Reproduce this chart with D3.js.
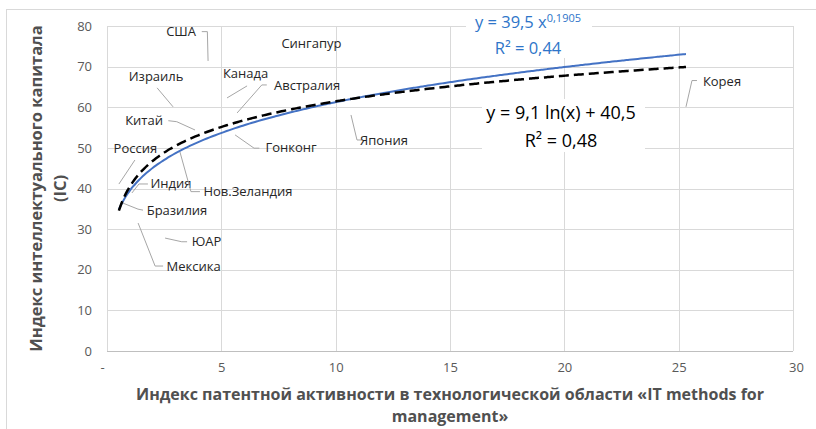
<!DOCTYPE html>
<html><head><meta charset="utf-8">
<script src="https://cdn.jsdelivr.net/npm/d3@7"></script>
<style>
body{margin:0;background:#fff;}
svg{display:block;}
</style></head>
<body>
<svg id="chart" width="816" height="429"></svg>
<script>
// ---- data ----
const countries = ["США","Сингапур","Израиль","Канада","Австралия","Китай","Россия","Гонконг","Индия","Нов.Зеландия","Бразилия","ЮАР","Мексика","Япония","Корея"];
const patentIndex = [4.42, 8.94, 2.89, 5.25, 5.69, 3.85, 0.52, 5.60, 1.09, 3.19, 0.70, 2.54, 1.36, 10.67, 25.32];
const icIndex     = [71.4, 75.6, 60.1, 62.3, 58.6, 54.4, 41.1, 53.2, 38.9, 49.0, 36.4, 27.8, 31.5, 58.1, 60.1];
const powerFit = [39.5, 0.1905];   // y = a * x^b
const logFit   = [9.1, 40.5];      // y = a * ln(x) + b
const xTicks = [0, 5, 10, 15, 20, 25, 30];
const yTicks = [0, 10, 20, 30, 40, 50, 60, 70, 80];

// ---- layout (pixel offsets of data labels relative to their point) ----
// [labelDx, labelDy, stubStartDx, stubStartDy, stubEndDx, stubEndDy] ; null = no leader
const labelLayout = [
  [-27,-29, -6.3,-29.3, -0.7,-29.3],
  [0,0, null],
  [-17,-30, -16,-19, -16,-19],
  [18.5,-24, 20,-12, 20,-12],
  [70,-27.3, 29.7,-28, 24.7,-28],
  [-51,-9.3, -26.7,-9.3, -18.3,-8.3],
  [16.5,-36, 16,-24, 16,-24],
  [56,13, 24.3,13.3, 19,13.3],
  [39,-10, 16,-9, 7,-9],
  [68,39.7, 20,39.7, 11,39.7],
  [54,7, 20,7, 15,6],
  [41.5,3, 22,3.7, 16.7,3.7],
  [55.5,43, 25,43, 17,43],
  [33,25, 11,25, 6,25],
  [36,-25, 11,-26.3, 6,-26.3]
];

const svg = d3.select("#chart");
const M = {left:107, right:793, top:26, bottom:351};
const x = d3.scaleLinear().domain([0,30]).range([M.left, M.right]);
const y = d3.scaleLinear().domain([0,80]).range([M.bottom, M.top]);
const FONT = "'Open Sans', 'Noto Sans', sans-serif";

// chart area border
svg.append("rect").attr("x",6.5).attr("y",9.5).attr("width",830).attr("height",440)
  .attr("fill","#fff").attr("stroke","#d9d9d9");

// gridlines
svg.append("g").selectAll("line").data(yTicks).join("line")
  .attr("x1",M.left).attr("x2",M.right)
  .attr("y1",d=>Math.round(y(d))+0.5).attr("y2",d=>Math.round(y(d))+0.5)
  .attr("stroke",d=>d===0?"#bfbfbf":"#d9d9d9").attr("stroke-width",1);
svg.append("g").selectAll("line").data(xTicks).join("line")
  .attr("y1",M.top).attr("y2",M.bottom)
  .attr("x1",d=>Math.round(x(d))+0.5).attr("x2",d=>Math.round(x(d))+0.5)
  .attr("stroke","#d9d9d9").attr("stroke-width",1);

// axes (labels only, via d3 axes)
const yAxis = svg.append("g").attr("transform",`translate(${M.left},0)`)
  .call(d3.axisLeft(y).tickValues(yTicks).tickSize(0).tickPadding(15));
yAxis.select(".domain").remove();
yAxis.selectAll("text").attr("font-family",FONT).attr("font-size",13).attr("fill","#595959");

const xAxis = svg.append("g").attr("transform",`translate(0,${M.bottom})`)
  .call(d3.axisBottom(x).tickValues(xTicks).tickSize(0).tickPadding(12)
        .tickFormat(d=>d===0?"-":d));
xAxis.select(".domain").remove();
xAxis.selectAll("text").attr("font-family",FONT).attr("font-size",13).attr("fill","#595959")
  .attr("dx",d=>d===0?-5:(d===30?3:0));

// axis titles
const xt = svg.append("text").attr("text-anchor","middle").attr("font-family",FONT)
  .attr("font-weight","bold").attr("font-size",16).attr("fill","#505050");
xt.append("tspan").attr("x",(M.left+M.right)/2).attr("y",400)
  .text("Индекс патентной активности в технологической области «IT methods for");
xt.append("tspan").attr("x",(M.left+M.right)/2).attr("y",422).text("management»");

const yt = svg.append("text").attr("text-anchor","middle").attr("font-family",FONT)
  .attr("font-weight","bold").attr("font-size",16.5).attr("fill","#505050")
  .attr("transform",`translate(0,${(M.top+M.bottom)/2}) rotate(-90)`);
yt.append("tspan").attr("x",0).attr("y",42).text("Индекс интеллектуального капитала");
yt.append("tspan").attr("x",0).attr("y",66).text("(IC)");

// trendlines
const xmin = d3.min(patentIndex), xmax = d3.max(patentIndex);
const xs = d3.range(0,201).map(i=>xmin+(xmax-xmin)*i/200);
const line = d3.line().x(d=>x(d[0])).y(d=>y(d[1])).curve(d3.curveMonotoneX);
svg.append("path").datum(xs.map(v=>[v, powerFit[0]*Math.pow(v,powerFit[1])]))
  .attr("d",line).attr("fill","none").attr("stroke","#4472C4").attr("stroke-width",2);
svg.append("path").datum(xs.map(v=>[v, logFit[0]*Math.log(v)+logFit[1]]))
  .attr("d",line).attr("fill","none").attr("stroke","#000").attr("stroke-width",2.5)
  .attr("stroke-dasharray","10,5");

// leader lines and labels
countries.forEach((c,i)=>{
  const px = x(patentIndex[i]), py = y(icIndex[i]);
  const L = labelLayout[i];
  if (L[2] !== null) {
    svg.append("polyline")
      .attr("points",`${px+L[2]},${py+L[3]} ${px+L[4]},${py+L[5]} ${px},${py}`)
      .attr("fill","none").attr("stroke","#a6a6a6").attr("stroke-width",1);
  }
  svg.append("text").attr("x",px+L[0]).attr("y",py+L[1]).attr("dy","0.35em")
    .attr("text-anchor","middle").attr("font-family",FONT).attr("font-size",13)
    .attr("fill","#262626").text(c);
});

// trendline equation labels
const blueX = 528;
svg.append("rect").attr("x",466).attr("y",12).attr("width",126).attr("height",46).attr("fill","#fff");
const be = svg.append("text").attr("x",blueX).attr("y",y(80)).attr("dy","0.15em").attr("text-anchor","middle")
  .attr("font-family",FONT).attr("font-size",16.5).attr("fill","#2E75C9");
be.append("tspan").text(`y = ${String(powerFit[0]).replace(".",",")} x`);
be.append("tspan").attr("font-size",11).attr("dy","-0.55em").text(String(powerFit[1]).replace(".",","));
svg.append("text").attr("x",blueX).attr("y",54).attr("text-anchor","middle")
  .attr("font-family",FONT).attr("font-size",16.5).attr("fill","#2E75C9").text("R² = 0,44");

svg.append("rect").attr("x",482).attr("y",99).attr("width",163).attr("height",53).attr("fill","#fff");
svg.append("text").attr("x",561).attr("y",119).attr("text-anchor","middle")
  .attr("font-family",FONT).attr("font-size",18).attr("fill","#000")
  .text(`y =  ${String(logFit[0]).replace(".",",")} ln(x) + ${String(logFit[1]).replace(".",",")}`);
svg.append("text").attr("x",561).attr("y",147).attr("text-anchor","middle")
  .attr("font-family",FONT).attr("font-size",18).attr("fill","#000").text("R² = 0,48");
</script>
</body></html>
